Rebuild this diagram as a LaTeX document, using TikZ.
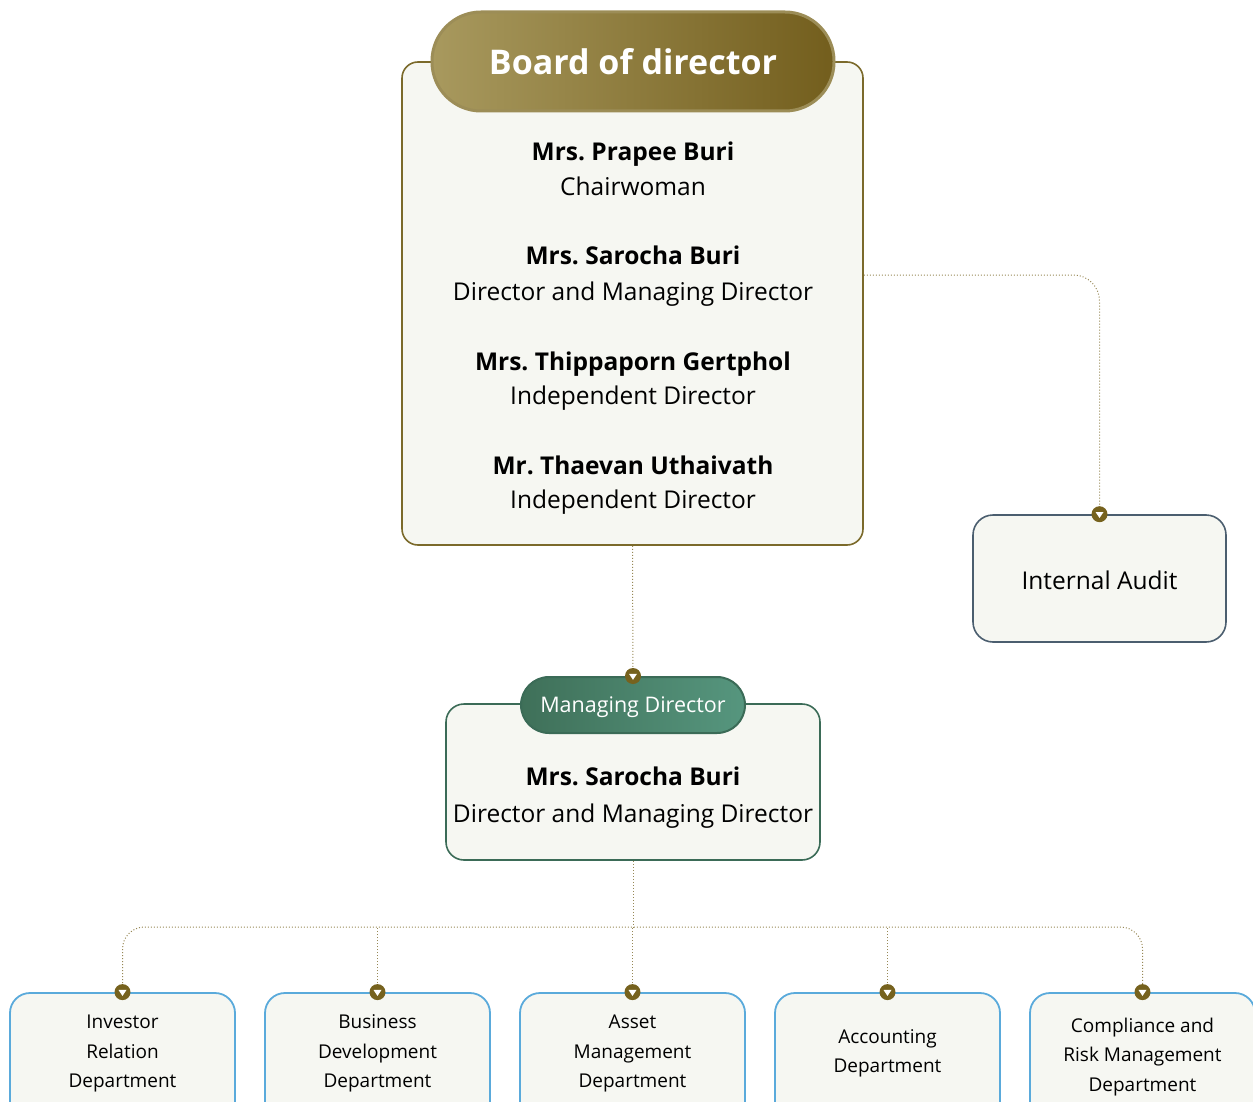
\documentclass[tikz,border=0pt]{standalone}
\usepackage{fontspec}
\setmainfont{Open Sans}
\begin{document}
\frenchspacing
\definecolor{bg}{HTML}{F6F7F2}
\definecolor{oliveB}{HTML}{7B6A2B}
\definecolor{connC}{HTML}{978856}
\definecolor{markC}{HTML}{76621E}
\definecolor{iaB}{HTML}{4B5E6F}
\definecolor{mdB}{HTML}{3B6B57}
\definecolor{mdL}{HTML}{3F7059}
\definecolor{mdR}{HTML}{56967E}
\definecolor{depB}{HTML}{5AAADB}
\definecolor{pillL}{HTML}{A8995E}
\definecolor{pillR}{HTML}{735E1D}
\definecolor{pillB}{HTML}{9C8D57}
\begin{tikzpicture}[x=1pt,y=-1pt,
  box/.style={draw, fill=bg, rectangle, inner sep=0pt, line width=1.6pt},
  conn/.style={draw=connC, dotted, line width=1pt},
  marker/.style={circle, fill=markC, minimum size=16pt, inner sep=0pt,
    path picture={\fill[white] ([shift={(-4pt,2.2pt)}]path picture bounding box.center) -- ([shift={(4pt,2.2pt)}]path picture bounding box.center) -- ([shift={(0pt,-3.8pt)}]path picture bounding box.center) -- cycle;}},
  big/.style={font=\fontsize{24.5}{28}\selectfont, anchor=base, inner sep=0pt},
  bigb/.style={big, font=\fontsize{24.5}{28}\selectfont\bfseries},
  dep/.style={font=\fontsize{19}{22}\selectfont, anchor=base, inner sep=0pt},
]
\useasboundingbox (0,0) rectangle (1253,1102);
\clip (0,0) rectangle (1253,1102);

% Board
\node[box, draw=oliveB, rounded corners=16pt, minimum width=461pt, minimum height=483pt] (board) at (632.5,303.5) {};
\node[draw=pillB, line width=3pt, rounded corners=49pt, left color=pillL, right color=pillR, minimum width=402pt, minimum height=99pt, inner sep=0pt] (bpill) at (633,61.5) {};
\node[font=\fontsize{34}{40}\selectfont\bfseries, text=white, anchor=base, inner sep=0pt] (btitle) at (633,75) {Board of director};

\node[bigb] (n1) at (633,161) {Mrs. Prapee Buri};
\node[big] (r1) at (633,196) {Chairwoman};
\node[bigb] (n2) at (633,265) {Mrs. Sarocha Buri};
\node[big] (r2) at (633,300) {Director and Managing Director};
\node[bigb] (n3) at (633,370) {Mrs. Thippaporn Gertphol};
\node[big] (r3) at (633,404) {Independent Director};
\node[bigb] (n4) at (633,474) {Mr. Thaevan Uthaivath};
\node[big] (r4) at (633,508) {Independent Director};

% Internal audit
\node[box, draw=iaB, rounded corners=20pt, minimum width=253pt, minimum height=127pt] (ia) at (1099.5,578.5) {};
\node[big] (iat) at (1099.5,589) {Internal Audit};

% Managing director
\node[box, draw=mdB, rounded corners=18pt, minimum width=374pt, minimum height=156pt] (md) at (633,782) {};
\node[draw=mdB, line width=2pt, rounded corners=28pt, left color=mdL, right color=mdR, minimum width=224pt, minimum height=56pt, inner sep=0pt] (mdpill) at (633,705) {};
\node[font=\fontsize{21.5}{24}\selectfont, text=white, anchor=base, inner sep=0pt] (mdtitle) at (633,712) {Managing Director};
\node[bigb] (mdn) at (633,785) {Mrs. Sarocha Buri};
\node[big] (mdr) at (633,822) {Director and Managing Director};

% Departments
\foreach \i/\x in {1/122.5,2/377.5,3/632.5,4/887.5,5/1142.5}{
  \node[box, draw=depB, line width=1.8pt, rounded corners=20pt, minimum width=225pt, minimum height=140pt] (d\i) at (\x,1063) {};
}
\node[dep] (t1a) at (d1.north |- 0,1028) {Investor};
\node[dep] (t1b) at (d1.north |- 0,1058) {Relation};
\node[dep] (t1c) at (d1.north |- 0,1087) {Department};
\node[dep] (t2a) at (d2.north |- 0,1028) {Business};
\node[dep] (t2b) at (d2.north |- 0,1058) {Development};
\node[dep] (t2c) at (d2.north |- 0,1087) {Department};
\node[dep] (t3a) at (d3.north |- 0,1028) {Asset};
\node[dep] (t3b) at (d3.north |- 0,1058) {Management};
\node[dep] (t3c) at (d3.north |- 0,1087) {Department};
\node[dep] (t4a) at (d4.north |- 0,1043) {Accounting};
\node[dep] (t4b) at (d4.north |- 0,1072) {Department};
\node[dep] (t5a) at (d5.north |- 0,1032) {Compliance and};
\node[dep] (t5b) at (d5.north |- 0,1061) {Risk Management};
\node[dep] (t5c) at (d5.north |- 0,1091) {Department};

% Connectors
\coordinate (bus) at (633,927);
\draw[conn, rounded corners=26pt] ([yshift=28.5pt]board.east) -| (ia.north);
\draw[conn] (board.south) -- (mdpill.north);
\draw[conn] (md.south) -- (bus);
\draw[conn, rounded corners=22pt] (d1.north) |- (bus) -| (d5.north);
\draw[conn] (d2.north) -- (d2.north |- bus);
\draw[conn] (d3.north) -- (d3.north |- bus);
\draw[conn] (d4.north) -- (d4.north |- bus);

% Markers
\node[marker] (m0) at (ia.north) {};
\node[marker] (m1) at (mdpill.north) {};
\foreach \i in {1,...,5}{ \node[marker] (md\i) at (d\i.north) {}; }
\end{tikzpicture}
\end{document}
